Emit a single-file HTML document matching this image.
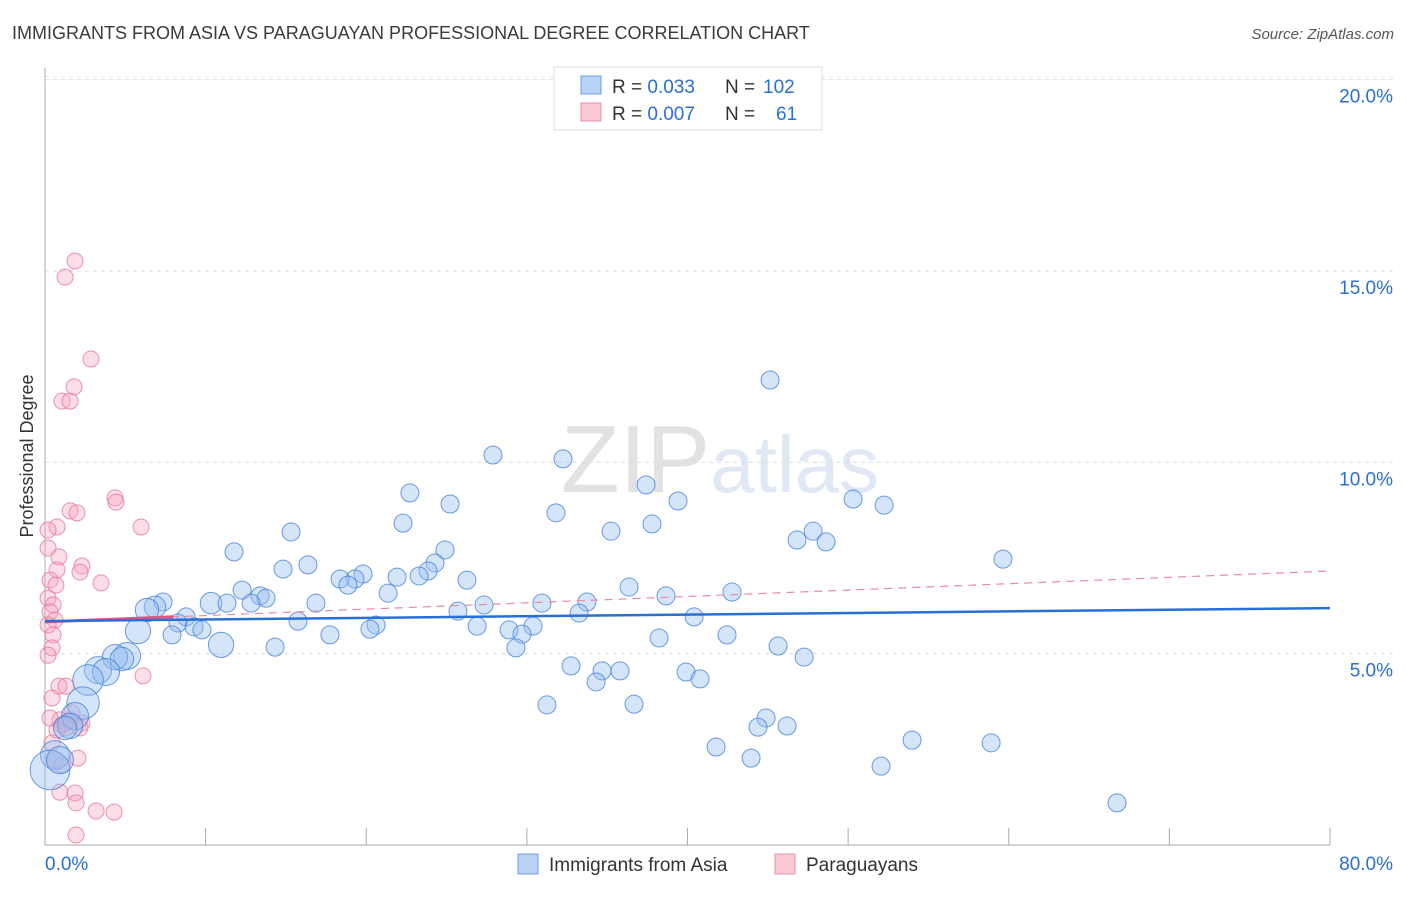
<!DOCTYPE html>
<html><head><meta charset="utf-8"><style>
body{margin:0;background:#fff;font-family:"Liberation Sans",sans-serif;}
svg text{font-family:"Liberation Sans",sans-serif;}
</style></head><body>
<svg id="chart" width="1406" height="892" viewBox="0 0 1406 892">
<text x="12" y="39" font-size="18" fill="#3a3a3a">IMMIGRANTS FROM ASIA VS PARAGUAYAN PROFESSIONAL DEGREE CORRELATION CHART</text>
<text x="1394" y="39" font-size="15" fill="#555" font-style="italic" text-anchor="end">Source: ZipAtlas.com</text>
<text x="720" y="492" font-size="96" fill="#e6e6e6" text-anchor="middle" font-family="Liberation Serif"><tspan fill="#e2e2e2">ZIP</tspan><tspan fill="#dfe8f4" font-family="Liberation Sans" font-size="80">atlas</tspan></text>
<text transform="translate(33,456) rotate(-90)" font-size="18" fill="#333" text-anchor="middle">Professional Degree</text>
<g id="grid"></g><g id="axes"></g><g id="pinkPts"></g><g id="bluePts"></g><g id="trends"></g>
<g>
<rect x="554" y="67" width="268" height="63" fill="#fff" stroke="#ddd"/>
<rect x="581" y="76" width="20" height="18" fill="#b8d3f5" stroke="#6a9fe0"/>
<rect x="581" y="103" width="20" height="18" fill="#fbc8d6" stroke="#e890aa"/>
<text x="612" y="93" font-size="19" fill="#333">R = <tspan fill="#2a6fd6">0.033</tspan><tspan x="725">N = </tspan><tspan fill="#2a6fd6" x="763">102</tspan></text>
<text x="612" y="120" font-size="19" fill="#333">R = <tspan fill="#2a6fd6">0.007</tspan><tspan x="725">N = </tspan><tspan fill="#2a6fd6" x="776">61</tspan></text>
</g>
<g>
<rect x="518" y="854" width="20" height="20" fill="#b8d3f5" stroke="#6a9fe0"/>
<text x="549" y="871" font-size="19" fill="#333">Immigrants from Asia</text>
<rect x="775" y="854" width="20" height="20" fill="#fbc8d6" stroke="#e890aa"/>
<text x="806" y="871" font-size="19" fill="#333">Paraguayans</text>
</g>
</svg>
<script>
const yTicks=[5,10,15,20];
const yTickLabels=["5.0%","10.0%","15.0%","20.0%"];
const xTickVals=[0,10,20,30,40,50,60,70,80];
const xEndLabels=["0.0%","80.0%"];
const blueX=[45.14,27.89,32.25,37.42,22.72,39.41,25.22,50.31,52.24,31.81,22.29,37.79,15.32,35.24,47.82,46.82,48.63,11.77,24.90,59.64,16.37,14.82,24.28,23.85,19.80,19.30,18.37,18.86,21.92,23.29,26.27,12.27,21.36,13.39,13.76,36.36,42.77,38.66,27.33,30.94,33.74,33.25,25.71,16.87,7.35,6.85,6.35,10.34,11.33,12.83,15.75,8.78,8.28,9.28,9.77,20.61,20.23,26.90,28.89,30.38,29.70,40.41,17.74,7.91,5.79,42.46,38.23,14.32,10.96,29.32,45.64,47.26,5.11,4.36,4.79,3.30,3.80,32.75,34.68,35.80,39.91,40.78,34.31,2.68,2.37,31.25,36.67,44.89,44.39,46.20,1.87,1.56,41.78,53.98,58.90,43.96,52.05,66.74,1.25,0.62,0.31,0.93];
const blueY=[12.15,10.19,10.09,9.41,9.20,8.99,8.91,9.04,8.88,8.68,8.41,8.39,8.18,8.20,8.20,7.97,7.92,7.66,7.71,7.47,7.32,7.21,7.37,7.16,7.08,6.95,6.95,6.79,7.00,7.03,6.92,6.66,6.58,6.51,6.45,6.74,6.61,6.51,6.27,6.32,6.35,6.06,6.11,6.32,6.35,6.22,6.14,6.32,6.32,6.32,5.85,5.96,5.80,5.70,5.62,5.75,5.64,5.72,5.62,5.72,5.51,5.96,5.49,5.49,5.59,5.49,5.41,5.17,5.23,5.15,5.20,4.91,4.94,4.91,4.86,4.57,4.52,4.68,4.55,4.55,4.52,4.34,4.26,4.31,3.71,3.66,3.68,3.32,3.08,3.11,3.37,3.11,2.56,2.74,2.67,2.27,2.06,1.10,3.06,2.35,1.96,2.22];
const blueSize=[1,1,1,1,1,1,1,1,1,1,1,1,1,1,1,1,1,1,1,1,1,1,1,1,1,1,1,1,1,1,1,1,1,1,1,1,1,1,1,1,1,1,1,1,1,1.2,1.3,1.2,1,1,1,1,1,1,1,1,1,1,1,1,1,1,1,1,1.4,1,1,1,1.4,1,1,1,1.5,1.4,1.3,1.5,1.5,1,1,1,1,1,1,1.7,1.8,1,1,1,1,1,1.5,1.4,1,1,1,1,1,1,1.3,1.6,2.2,1.5];
const pinkX=[1.87,1.25,2.86,1.81,1.06,1.56,4.36,4.42,1.56,1.99,5.98,0.75,0.19,0.19,0.87,2.30,0.75,2.18,3.49,0.31,0.68,0.19,0.50,0.31,0.62,0.19,0.50,0.44,0.19,6.10,0.87,1.31,0.44,1.68,0.93,1.31,2.30,2.18,0.44,2.05,0.62,1.06,0.93,1.87,1.93,3.18,4.30,1.93,1.56,1.06,1.31,0.75,0.31];
const pinkY=[15.26,14.84,12.70,11.97,11.60,11.60,9.07,8.96,8.73,8.68,8.31,8.31,8.23,7.76,7.53,7.29,7.19,7.13,6.85,6.92,6.79,6.45,6.27,6.09,5.88,5.75,5.49,5.15,4.96,4.42,4.15,4.15,3.84,3.45,3.27,3.19,3.19,3.06,2.67,2.27,2.22,2.09,1.38,1.36,1.10,0.89,0.86,0.26,3.27,3.14,3.06,3.00,3.32];
const blueTrend=[5.85,6.19];
const pinkTrend=[5.83,7.16];
const X0=45,X1=1330,Y0=845,PY=38.27;
const xs=v=>X0+(v/80)*(X1-X0);
const ys=v=>Y0-v*PY;
const NS="http://www.w3.org/2000/svg";
function mk(tag,attrs,parent){const e=document.createElementNS(NS,tag);for(const k in attrs)e.setAttribute(k,attrs[k]);parent.appendChild(e);return e;}
const grid=document.getElementById('grid'),axes=document.getElementById('axes');
yTicks.forEach((t,i)=>{
 const l=mk('line',{x1:45,x2:1393,y1:ys(t),y2:ys(t),stroke:'#ddd','stroke-dasharray':'4,4'},grid);
 
 
 const tx=mk('text',{x:1393,y:ys(t)+23,'font-size':19,fill:'#2a6fd6','text-anchor':'end'},grid);
 tx.textContent=yTickLabels[i];
 
 
});
const topG=mk('line',{x1:45,x2:1393,y1:ys(20)-3,y2:ys(20)-3,stroke:'#eee','stroke-dasharray':'4,4'},grid);
const ya=mk('line',{x1:45,x2:45,y1:68,y2:Y0,stroke:'#aaa'},axes);


const xa=mk('line',{x1:45,x2:X1,y1:Y0,y2:Y0,stroke:'#aaa'},axes);


xTickVals.forEach(v=>{
 const t=mk('line',{x1:xs(v),x2:xs(v),y1:Y0-17,y2:Y0,stroke:'#aaa'},axes);
 
 
});
const xl0=mk('text',{x:45,y:870,'font-size':19,fill:'#2a6fd6'},axes);xl0.textContent=xEndLabels[0];


const xl1=mk('text',{x:1393,y:870,'font-size':19,fill:'#2a6fd6','text-anchor':'end'},axes);xl1.textContent=xEndLabels[1];


const pg=document.getElementById('pinkPts');
pinkX.forEach((v,i)=>{
 const c=mk('circle',{cx:xs(v),cy:ys(pinkY[i]),r:8,fill:'rgba(245,160,185,0.35)',stroke:'rgba(230,120,155,0.8)','stroke-width':1},pg);
 
 
});
const bg=document.getElementById('bluePts');
blueX.forEach((v,i)=>{
 const c=mk('circle',{cx:xs(v),cy:ys(blueY[i]),r:9*blueSize[i],fill:'rgba(150,190,240,0.4)',stroke:'rgba(70,130,220,0.8)','stroke-width':1},bg);
 
 
});
const tg=document.getElementById('trends');
const pd=mk('line',{x1:xs(0),y1:ys(pinkTrend[0]),x2:xs(80),y2:ys(pinkTrend[1]),stroke:'#e88aa8','stroke-width':1.2,'stroke-dasharray':'8,6'},tg);


const ps=mk('line',{x1:xs(0),y1:ys(pinkTrend[0]),x2:xs(8),y2:ys(pinkTrend[0]+(pinkTrend[1]-pinkTrend[0])*0.1),stroke:'#e0557f','stroke-width':3},tg);


const bl=mk('line',{x1:xs(0),y1:ys(blueTrend[0]),x2:xs(80),y2:ys(blueTrend[1]),stroke:'#2a6fd6','stroke-width':2.5},tg);


</script>
</body></html>
